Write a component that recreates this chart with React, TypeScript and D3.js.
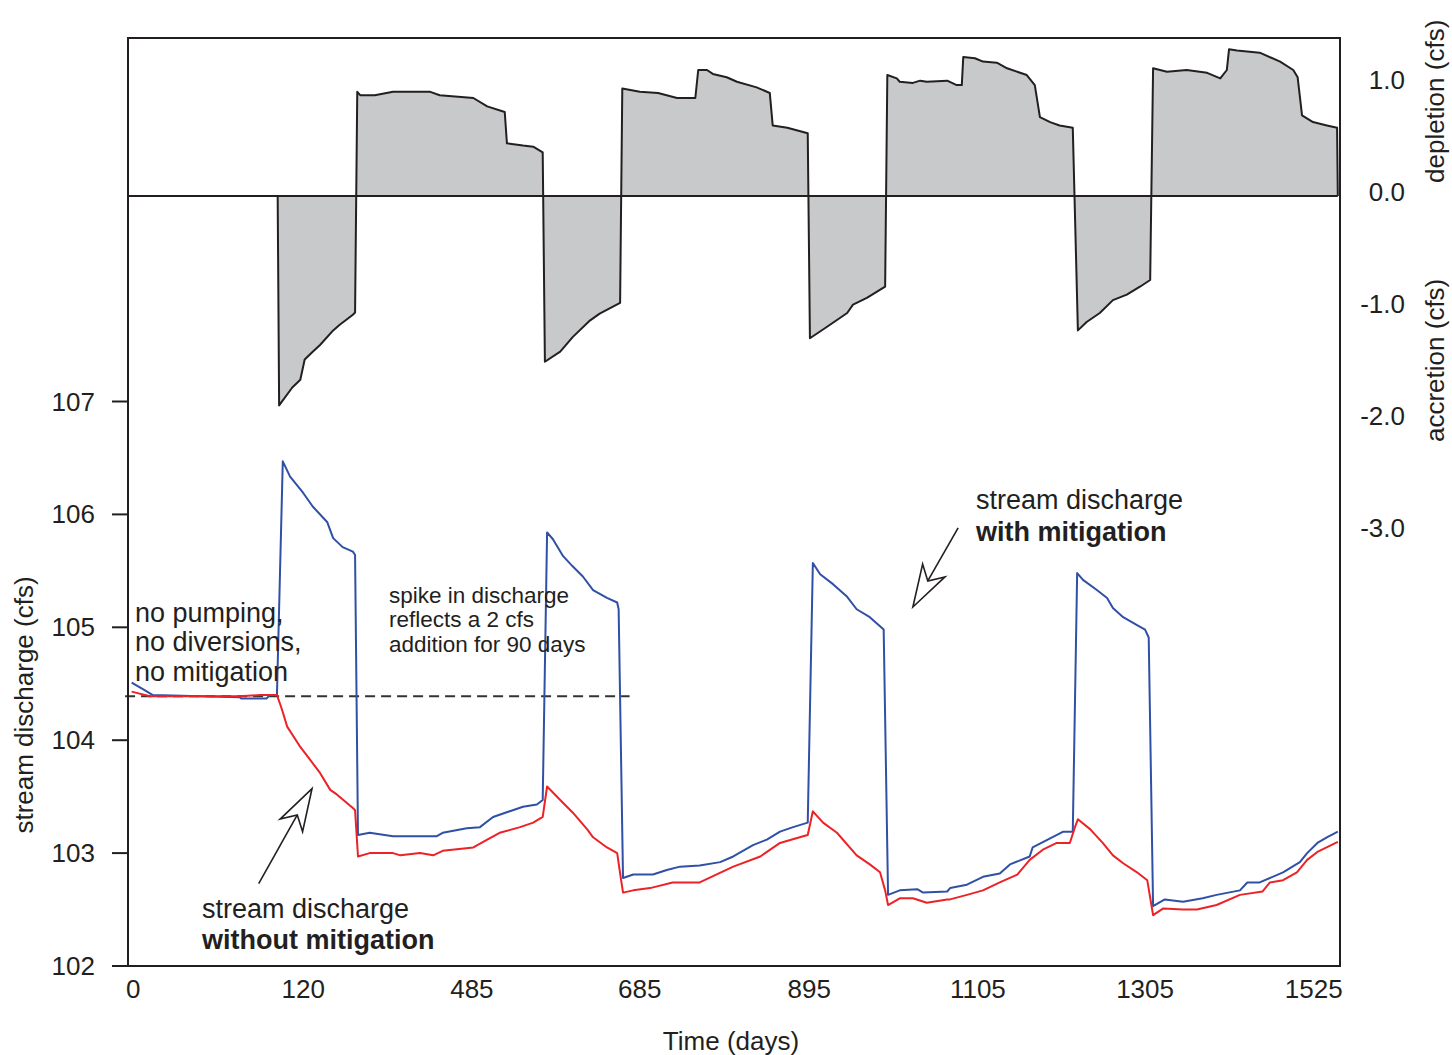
import React from "react";
import * as d3 from "d3";

// ---------- data ----------
const xTickDays = [7, 240, 471, 701, 933, 1164, 1393, 1624];
const xTickLabels = ["0", "120", "485", "685", "895", "1105", "1305", "1525"];
const leftTicks = [102, 103, 104, 105, 106, 107];
const rightTicks = [1, 0, -1, -2, -3];
const rightTickLabels = ["1.0", "0.0", "-1.0", "-2.0", "-3.0"];
const baselineDischarge = 104.39;
const baselineEndDay = 687;

// depletion (+) / accretion (-) in cfs, [day, value]
const depletion: [number, number][] = [
  [0, 0], [205, 0], [207, -1.87], [225, -1.71], [236, -1.64], [242, -1.46], [253, -1.39], [263, -1.33], [281, -1.2], [290, -1.15], [308, -1.06], [311, -1.04],
  [314, 0.93], [318, 0.9], [338, 0.9], [363, 0.93], [414, 0.93], [427, 0.9], [473, 0.875], [492, 0.8], [516, 0.75], [519, 0.47], [541, 0.45], [555, 0.44], [568, 0.39],
  [571, -1.48], [592, -1.39], [609, -1.26], [633, -1.11], [646, -1.05], [674, -0.955],
  [677, 0.96], [701, 0.93], [726, 0.92], [752, 0.875], [777, 0.875], [781, 1.125], [793, 1.125], [801, 1.09], [820, 1.06], [834, 1.02], [861, 0.97], [879, 0.92], [883, 0.63], [903, 0.61], [931, 0.56],
  [934, -1.27], [957, -1.17], [985, -1.045], [993, -0.97], [1012, -0.91], [1037, -0.81],
  [1040, 1.08], [1053, 1.05], [1057, 1.02], [1075, 1.01], [1085, 1.03], [1094, 1.02], [1122, 1.03], [1135, 0.99], [1142, 0.99], [1144, 1.24], [1160, 1.23], [1171, 1.2], [1190, 1.19], [1204, 1.14], [1231, 1.08], [1242, 0.99], [1249, 0.705], [1263, 0.66], [1276, 0.63], [1294, 0.61],
  [1301, -1.2], [1313, -1.125], [1331, -1.045], [1349, -0.93], [1368, -0.88], [1386, -0.81], [1400, -0.75],
  [1404, 1.14], [1423, 1.11], [1450, 1.125], [1478, 1.1], [1496, 1.05], [1505, 1.125], [1508, 1.31], [1519, 1.3], [1550, 1.28], [1578, 1.2], [1596, 1.125], [1602, 1.06], [1608, 0.72], [1623, 0.66], [1642, 0.63], [1656, 0.61], [1657, 0],
];

// stream discharge with mitigation (cfs)
const withMitigation: [number, number][] = [
  [5, 104.51], [21, 104.45], [34, 104.4], [153, 104.38], [155, 104.37], [190, 104.37], [194, 104.4], [204, 104.4],
  [212, 106.47], [222, 106.335], [240, 106.19], [253, 106.07], [273, 105.93], [281, 105.79], [294, 105.71], [308, 105.67], [311, 105.64],
  [315, 103.16], [331, 103.18], [363, 103.15], [423, 103.15], [431, 103.18], [464, 103.22], [482, 103.23], [500, 103.32], [527, 103.38], [541, 103.41], [560, 103.43], [568, 103.47],
  [574, 105.84], [582, 105.78], [596, 105.63], [609, 105.54], [623, 105.45], [637, 105.33], [656, 105.26], [670, 105.22], [672, 105.16],
  [678, 102.78], [692, 102.81], [719, 102.81], [738, 102.85], [756, 102.88], [783, 102.89], [811, 102.92], [829, 102.97], [856, 103.07], [875, 103.12], [893, 103.19], [911, 103.23], [931, 103.27],
  [938, 105.57], [948, 105.47], [966, 105.38], [985, 105.27], [998, 105.16], [1016, 105.09], [1030, 105.01], [1035, 104.98],
  [1041, 102.63], [1057, 102.67], [1081, 102.68], [1089, 102.65], [1122, 102.66], [1126, 102.69], [1149, 102.72], [1171, 102.79], [1194, 102.82], [1208, 102.9], [1235, 102.97], [1239, 103.05], [1263, 103.13], [1281, 103.19], [1294, 103.19],
  [1300, 105.48], [1308, 105.42], [1327, 105.33], [1341, 105.26], [1349, 105.17], [1363, 105.09], [1382, 105.02], [1393, 104.98], [1398, 104.91],
  [1404, 102.53], [1420, 102.59], [1445, 102.57], [1472, 102.6], [1491, 102.63], [1523, 102.67], [1533, 102.74], [1550, 102.74], [1582, 102.83], [1605, 102.92], [1615, 103.0], [1629, 103.09], [1642, 103.14], [1657, 103.19],
];

// stream discharge without mitigation (cfs)
const withoutMitigation: [number, number][] = [
  [5, 104.43], [30, 104.39], [153, 104.39], [181, 104.4], [204, 104.4],
  [211, 104.27], [218, 104.12], [236, 103.94], [249, 103.83], [263, 103.71], [277, 103.56], [286, 103.52], [308, 103.4], [311, 103.38],
  [315, 102.97], [331, 103.0], [363, 103.0], [373, 102.98], [400, 103.0], [418, 102.98], [431, 103.02], [473, 103.05], [492, 103.12], [509, 103.18], [537, 103.23], [555, 103.27], [568, 103.32],
  [574, 103.59], [592, 103.47], [609, 103.36], [629, 103.21], [637, 103.14], [656, 103.05], [670, 103.0], [674, 102.82],
  [678, 102.65], [692, 102.67], [715, 102.69], [746, 102.74], [783, 102.74], [829, 102.88], [866, 102.97], [893, 103.09], [920, 103.14], [931, 103.16],
  [938, 103.37], [952, 103.27], [971, 103.18], [998, 102.98], [1016, 102.9], [1030, 102.83], [1037, 102.67],
  [1041, 102.54], [1057, 102.6], [1075, 102.6], [1094, 102.56], [1122, 102.59], [1126, 102.59], [1149, 102.63], [1171, 102.67], [1194, 102.74], [1218, 102.81], [1235, 102.94], [1253, 103.03], [1272, 103.09], [1290, 103.09], [1297, 103.23],
  [1301, 103.3], [1318, 103.21], [1335, 103.09], [1349, 102.98], [1363, 102.91], [1382, 102.83], [1396, 102.76],
  [1404, 102.45], [1418, 102.51], [1445, 102.5], [1464, 102.5], [1491, 102.54], [1523, 102.63], [1554, 102.66], [1564, 102.74], [1582, 102.76], [1601, 102.83], [1615, 102.94], [1629, 103.01], [1657, 103.1],
];

// ---------- layout ----------
const W = 1452;
const H = 1055;
const left = 128;
const right = 1340;
const top = 38;
const bottom = 966;
const ink = "#231f20";
const font = "Arial, 'Liberation Sans', Helvetica, sans-serif";

const x = d3.scaleLinear().domain([0, 1660]).range([left, right]);
const yQ = d3.scaleLinear().domain([102, 107]).range([bottom, 401.5]);
const yD = d3.scaleLinear().domain([-3, 1]).range([532, 84]);

function Arrow({ tip, tail }: { tip: [number, number]; tail: [number, number] }) {
  const tx = x(tip[0]);
  const ty = yQ(tip[1]);
  const sx = x(tail[0]);
  const sy = yQ(tail[1]);
  const ang = Math.atan2(sy - ty, sx - tx);
  const spread = (17 * Math.PI) / 180;
  const barb = 44;
  const notch = 30;
  const p = (a: number, l: number): [number, number] => [tx + l * Math.cos(a), ty + l * Math.sin(a)];
  const b1 = p(ang - spread, barb);
  const b2 = p(ang + spread, barb);
  const n = p(ang, notch);
  return (
    <g stroke={ink} strokeWidth={1.6} strokeLinejoin="miter">
      <line x1={n[0]} y1={n[1]} x2={sx} y2={sy} />
      <path d={`M${tx},${ty}L${b1[0]},${b1[1]}L${n[0]},${n[1]}L${b2[0]},${b2[1]}Z`} fill="white" />
    </g>
  );
}

export default function App() {
  const area = d3
    .area<[number, number]>()
    .x((d) => x(d[0]))
    .y0(yD(0))
    .y1((d) => yD(d[1]));
  const depLine = d3
    .line<[number, number]>()
    .x((d) => x(d[0]))
    .y((d) => yD(d[1]));
  const qLine = d3
    .line<[number, number]>()
    .x((d) => x(d[0]))
    .y((d) => yQ(d[1]));

  const textStyle = { fontFamily: font, fill: ink } as React.CSSProperties;

  return (
    <svg
      width={W}
      height={H}
      style={{ position: "absolute", left: 0, top: 0, display: "block", background: "white" }}
    >
      {/* depletion / accretion panel */}
      <path d={area(depletion) || ""} fill="#c8c9cb" stroke="none" />
      <path d={depLine(depletion) || ""} fill="none" stroke={ink} strokeWidth={2} strokeLinejoin="round" />
      <line x1={x(0)} x2={x(1657)} y1={yD(0)} y2={yD(0)} stroke={ink} strokeWidth={2} />

      {/* baseline dashed */}
      <line
        x1={x(-4)}
        x2={x(baselineEndDay)}
        y1={yQ(baselineDischarge)}
        y2={yQ(baselineDischarge)}
        stroke="#333"
        strokeWidth={2}
        strokeDasharray="10,6"
      />

      {/* discharge lines */}
      <path d={qLine(withMitigation) || ""} fill="none" stroke="#3050a6" strokeWidth={2} strokeLinejoin="round" />
      <path d={qLine(withoutMitigation) || ""} fill="none" stroke="#ec2227" strokeWidth={2} strokeLinejoin="round" />

      {/* frame */}
      <rect x={left} y={top} width={right - left} height={bottom - top} fill="none" stroke={ink} strokeWidth={2} />

      {/* left axis ticks */}
      {leftTicks.map((v) => (
        <g key={v}>
          <line x1={112} x2={left} y1={yQ(v)} y2={yQ(v)} stroke={ink} strokeWidth={2} />
          <text x={95} y={yQ(v) + 9} textAnchor="end" fontSize={26} style={textStyle}>
            {v}
          </text>
        </g>
      ))}

      {/* right axis labels */}
      {rightTicks.map((v, i) => (
        <text key={v} x={1405} y={yD(v) + 5} textAnchor="end" fontSize={26} style={textStyle}>
          {rightTickLabels[i]}
        </text>
      ))}

      {/* bottom tick labels */}
      {xTickDays.map((d, i) => (
        <text key={d} x={x(d)} y={998} textAnchor="middle" fontSize={26} style={textStyle}>
          {xTickLabels[i]}
        </text>
      ))}

      {/* axis titles */}
      <text x={731} y={1050} textAnchor="middle" fontSize={26} style={textStyle}>
        Time (days)
      </text>
      <text transform="translate(33,705) rotate(-90)" textAnchor="middle" fontSize={26} style={textStyle}>
        stream discharge (cfs)
      </text>
      <text transform="translate(1444,183) rotate(-90)" textAnchor="start" fontSize={26} style={textStyle}>
        depletion (cfs)
      </text>
      <text transform="translate(1444,442) rotate(-90)" textAnchor="start" fontSize={26} style={textStyle}>
        accretion (cfs)
      </text>

      {/* annotations */}
      <text fontSize={27} style={textStyle}>
        <tspan x={135} y={622}>no pumping,</tspan>
        <tspan x={135} y={651}>no diversions,</tspan>
        <tspan x={135} y={681}>no mitigation</tspan>
      </text>
      <text fontSize={22.5} style={textStyle}>
        <tspan x={389} y={603}>spike in discharge</tspan>
        <tspan x={389} y={627}>reflects a 2 cfs</tspan>
        <tspan x={389} y={652}>addition for 90 days</tspan>
      </text>
      <text fontSize={27} style={textStyle}>
        <tspan x={976} y={509}>stream discharge</tspan>
        <tspan x={976} y={541} fontWeight="bold">with mitigation</tspan>
      </text>
      <text fontSize={27} style={textStyle}>
        <tspan x={202} y={918}>stream discharge</tspan>
        <tspan x={202} y={949} fontWeight="bold">without mitigation</tspan>
      </text>

      <Arrow tip={[252, 103.57]} tail={[179, 102.73]} />
      <Arrow tip={[1075, 105.18]} tail={[1137, 105.88]} />
    </svg>
  );
}
